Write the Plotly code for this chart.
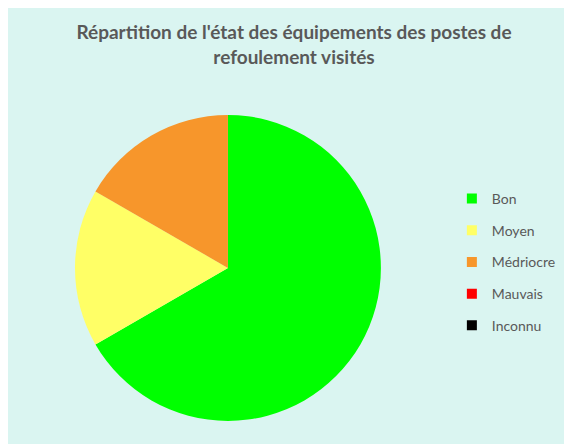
import plotly.graph_objects as go

labels = ["Bon", "Moyen", "Médriocre", "Mauvais", "Inconnu"]
values = [4, 1, 1, 0, 0]
colors = ["#00FF00", "#FFFF66", "#F7962B", "#FF0000", "#000000"]

title_text = "Répartition de l'état des équipements des postes de<br>refoulement visités"
bg = "#DAF5F1"

fig = go.Figure()
fig.add_trace(go.Pie(
    labels=labels, values=values,
    marker=dict(colors=colors, line=dict(width=0)),
    sort=False, direction="clockwise", rotation=0,
    textinfo="none", showlegend=False, hoverinfo="label+value+percent",
    domain=dict(x=[0.117, 0.652], y=[0.070, 0.759]),
))
for lab, col in zip(labels, colors):
    fig.add_trace(go.Scatter(
        x=[None], y=[None], mode="markers", name=lab,
        marker=dict(symbol="square", size=10, color=col),
        legendgroup=lab, showlegend=True,
    ))

fig.update_layout(
    width=572, height=444,
    margin=dict(l=0, r=0, t=0, b=0),
    paper_bgcolor=bg, plot_bgcolor=bg,
    xaxis=dict(visible=False), yaxis=dict(visible=False),
    title=dict(text=title_text, x=0.5, xanchor="center", y=0.93, yanchor="top",
               font=dict(family="Lato", size=19, color="#595959", weight="bold")),
    legend=dict(x=0.776, y=0.606, xanchor="left", yanchor="top",
                font=dict(family="Lato", size=14, color="#595959"),
                tracegroupgap=10.5, bgcolor="rgba(0,0,0,0)", itemwidth=30),
)

fig.write_html("out.html")
